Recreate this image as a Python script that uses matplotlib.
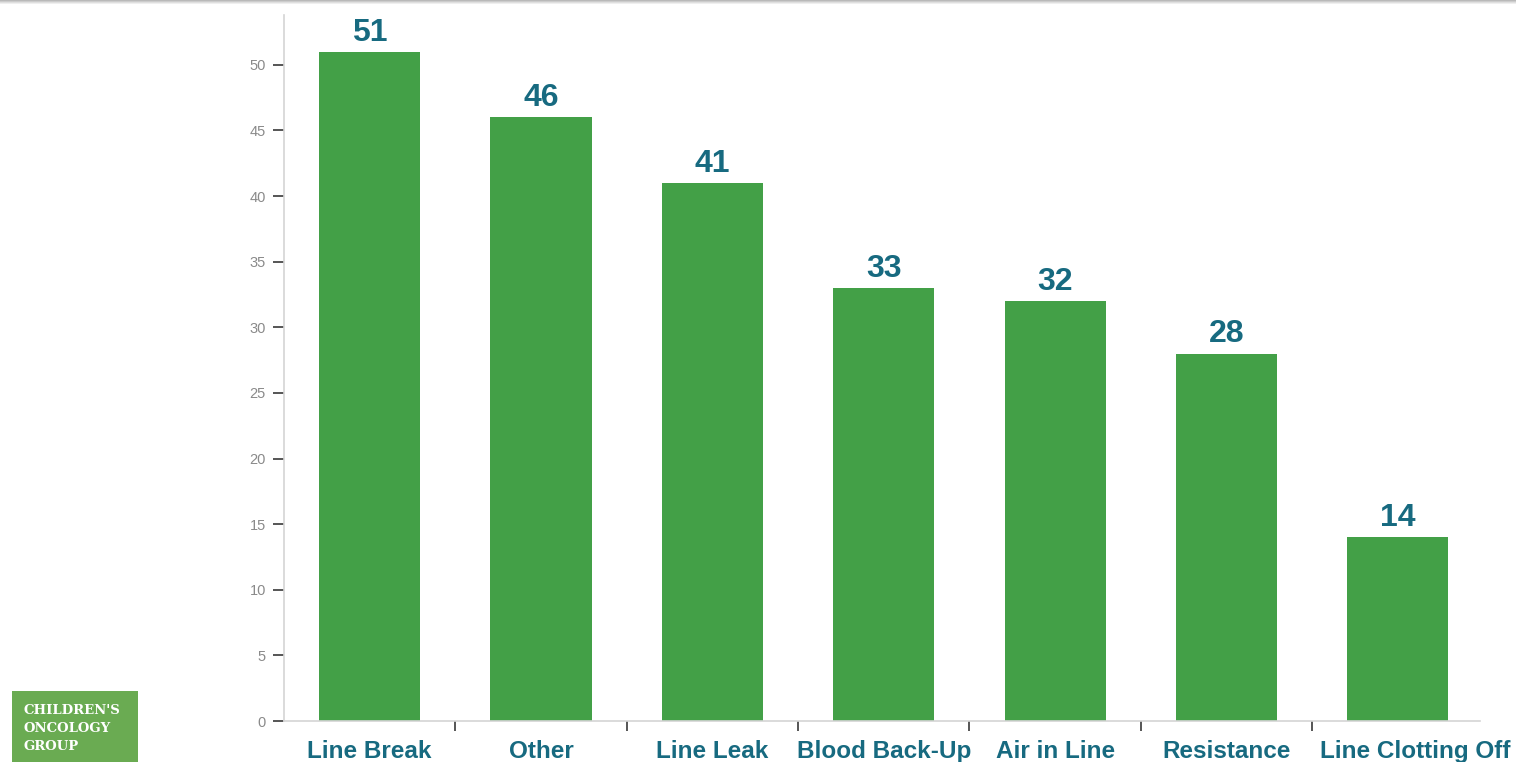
import matplotlib
matplotlib.use("Agg")
import matplotlib.pyplot as plt
from matplotlib.patches import Rectangle
from matplotlib.transforms import ScaledTranslation
import numpy as np

categories = ["Line Break", "Other", "Line Leak", "Blood Back-Up",
              "Air in Line", "Resistance", "Line Clotting Off"]
counts = [51, 46, 41, 33, 32, 28, 14]
y_ticks = [0, 5, 10, 15, 20, 25, 30, 35, 40, 45, 50]

BAR = "#43a047"
TEAL = "#176a80"
LOGO = "#6aab52"

plt.rcParams["font.family"] = ["Liberation Sans", "DejaVu Sans"]

fig = plt.figure(figsize=(15.16, 7.62), dpi=100)
ax = fig.add_axes([0.1873, 0.0538, 0.9763 - 0.1873, 0.9803 - 0.0538])

x = np.arange(len(categories))
ax.bar(x, counts, width=0.59, color=BAR, zorder=2)

for xi, v in zip(x, counts):
    ax.annotate(str(v), (xi, v), xytext=(0, 3), textcoords="offset points",
                ha="center", va="bottom", fontsize=23, fontweight="bold",
                color=TEAL)

ax.set_xlim(-0.5, 6.48)
ax.set_ylim(0, 53.8)

ax.set_yticks(y_ticks)
ax.set_yticklabels([str(t) for t in y_ticks])
ax.tick_params(axis="y", length=8, width=1.4, color="#555555",
               labelcolor="#8a8a8a", labelsize=10.5, pad=5)

ax.set_xticks(x)
ax.set_xticklabels(categories)
ax.tick_params(axis="x", which="major", length=0, pad=14,
               labelsize=17.5, labelcolor=TEAL)
for lbl in ax.get_xticklabels():
    lbl.set_fontweight("bold")
# the last label sits a little to the right of its bar
last = ax.get_xticklabels()[-1]
last.set_transform(last.get_transform() +
                   ScaledTranslation(0.17, 0, fig.dpi_scale_trans))
ax.set_xticks(x[:-1] + 0.5, minor=True)
ax.tick_params(axis="x", which="minor", length=7, width=1.4,
               color="#555555", direction="out")

for side in ("top", "right"):
    ax.spines[side].set_visible(False)
for side in ("left", "bottom"):
    ax.spines[side].set_color("#d4d4d4")
    ax.spines[side].set_linewidth(1.2)

# window edge shading along the top
for i, a in enumerate([0.55, 0.4, 0.25, 0.12]):
    fig.add_artist(Rectangle((0, 1 - (i + 1) / 762), 1, 1 / 762,
                             transform=fig.transFigure, color="#808080",
                             alpha=a, lw=0))

# group logo in the lower left
fig.add_artist(Rectangle((12 / 1516, 0), 126 / 1516, 71 / 762,
                         transform=fig.transFigure, color=LOGO, lw=0))
for i, word in enumerate(["CHILDREN'S", "ONCOLOGY", "GROUP"]):
    fig.text(23 / 1516, 1 - (710 + i * 18) / 762, word, color="white",
             fontsize=9.5, fontweight="bold", family="DejaVu Serif",
             va="center", ha="left")

fig.savefig("out.png", dpi=100)
